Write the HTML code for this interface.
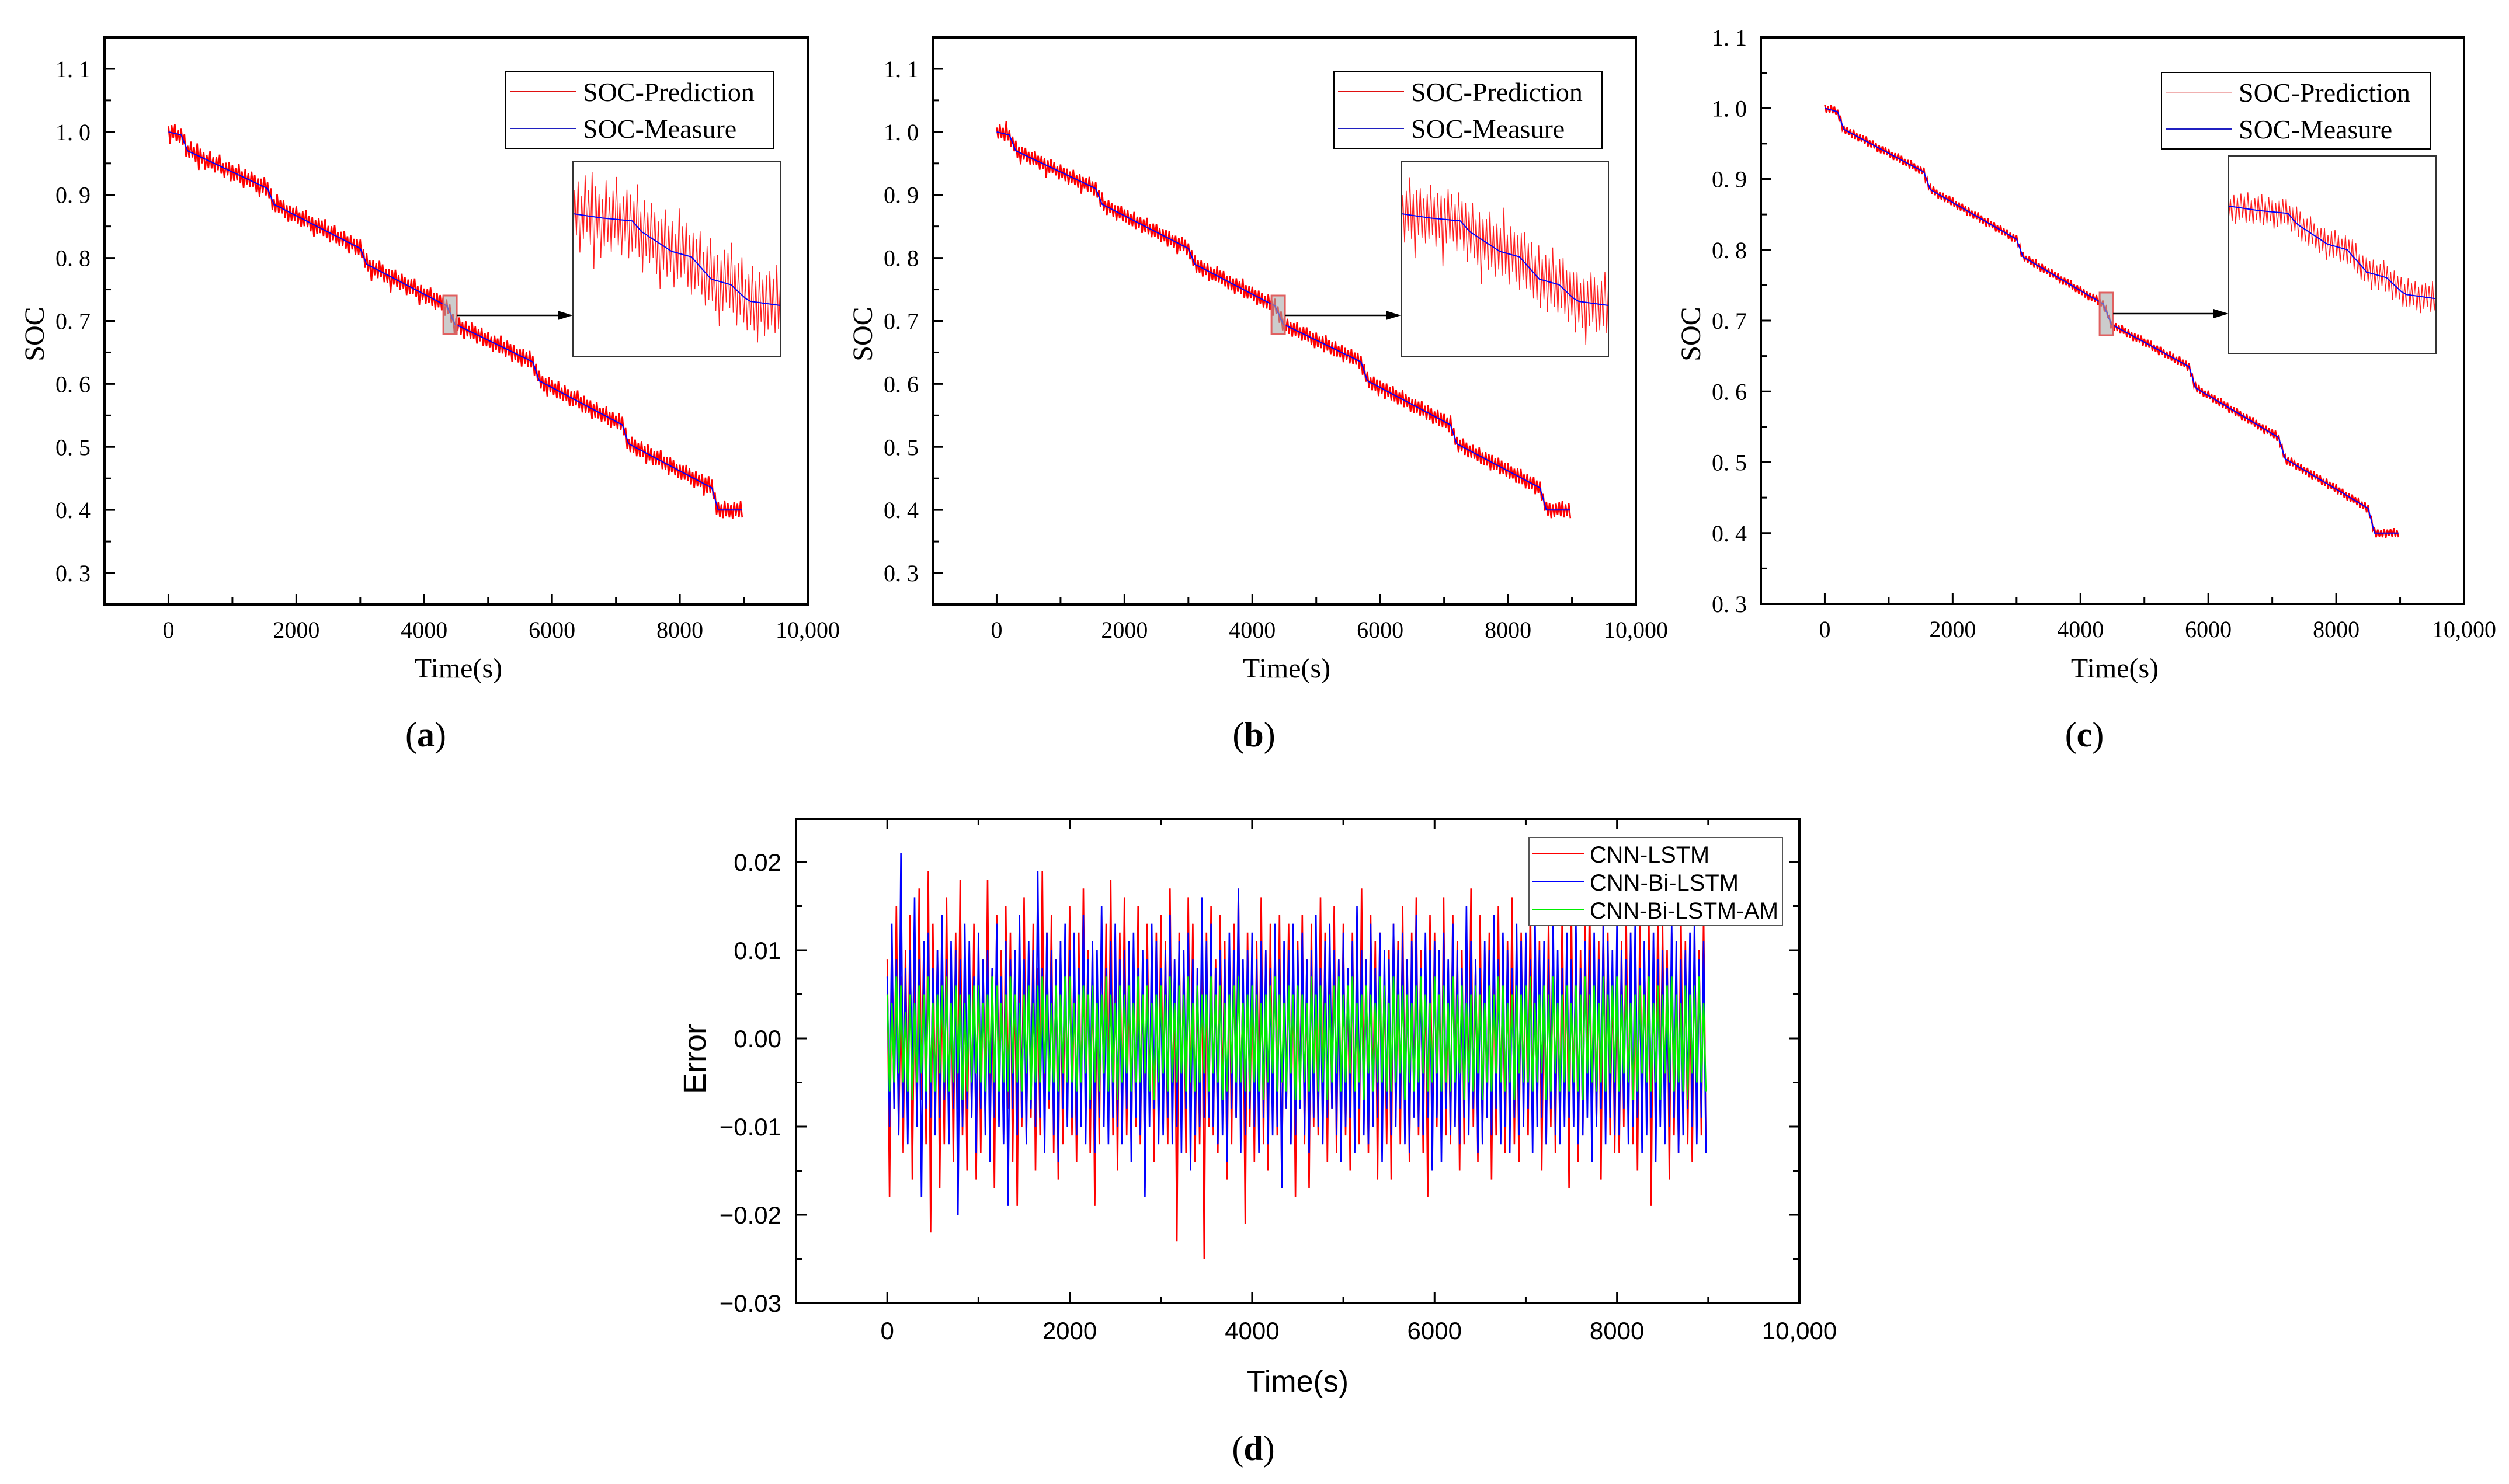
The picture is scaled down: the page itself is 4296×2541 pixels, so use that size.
<!DOCTYPE html>
<html>
<head>
<meta charset="utf-8">
<style>
html,body{margin:0;padding:0;background:#fff;}
svg{display:block;}
</style>
</head>
<body>
<svg id="fig" width="4296" height="2541" viewBox="0 0 4296 2541" xmlns="http://www.w3.org/2000/svg">
<rect x="0" y="0" width="4296" height="2541" fill="#fff"/>
</svg>
<script>
// ---- data ----
const TIME_STEP = 25;            // seconds between error samples
const ERR_UNIT = 0.001;
const redErr = [
9,-18,12,-8,15,-11,7,-13,10,-9,14,-16,8,-10,17,-7,11,-12,19,-22,
13,-9,10,-17,8,-12,16,-10,9,-14,12,-8,18,-11,7,-15,10,-9,13,-16,
11,-13,9,-10,18,-12,8,-17,14,-9,10,-11,15,-8,12,-14,9,-19,11,-10,
16,-12,10,-9,13,-15,8,-11,19,-10,12,-8,14,-13,9,-16,11,-12,10,-9,
15,-11,8,-14,12,-10,17,-9,10,-13,11,-19,9,-12,14,-8,13,-10,18,-11,
10,-15,12,-9,16,-11,8,-13,11,-10,15,-12,9,-17,13,-8,10,-14,12,-11,
14,-9,11,-12,17,-10,9,-23,12,-11,10,-13,16,-9,13,-14,8,-12,11,-25,
12,-10,15,-11,9,-13,14,-8,11,-16,10,-12,13,-9,17,-11,8,-21,12,-10,
9,-14,11,-10,16,-12,10,-15,13,-9,12,-11,14,-17,10,-8,13,-12,9,-18,
11,-8,14,-12,9,-17,13,-10,8,-11,16,-9,12,-14,10,-8,15,-13,9,-11,
13,-11,8,-15,12,-9,10,-12,17,-10,9,-13,14,-8,11,-16,12,-10,8,-12,
10,-16,13,-9,11,-12,15,-10,9,-14,12,-8,16,-11,10,-13,9,-18,14,-9,
12,-10,9,-13,16,-11,8,-12,14,-9,11,-15,10,-12,13,-8,17,-10,9,-14,
14,-12,10,-9,12,-16,9,-11,15,-10,8,-13,11,-9,16,-12,10,-14,12,-8,
9,-11,16,-10,13,-9,11,-15,8,-12,14,-10,12,-13,9,-11,15,-9,10,-17,
15,-9,12,-14,10,-11,13,-8,17,-12,9,-10,11,-16,14,-9,12,-11,8,-13,
10,-13,11,-10,15,-9,12,-12,9,-15,13,-10,10,-8,14,-19,11,-12,16,-9,
13,-9,10,-16,12,-11,9,-13,15,-10,11,-12,8,-14,13,-9,10,-11,14,-12];
const blueErr = [
7,-10,13,-8,9,-11,21,-9,8,-12,10,-7,16,-10,9,-18,11,-8,12,-9,
8,-11,10,-9,14,-7,9,-12,11,-8,10,-20,9,-10,13,-8,11,-9,7,-13,
12,-8,9,-11,10,-14,8,-9,13,-10,7,-12,11,-19,9,-8,10,-11,14,-9,
9,-12,11,-8,10,-10,19,-9,8,-13,12,-7,10,-11,9,-14,11,-8,13,-10,
10,-9,12,-11,8,-10,14,-12,9,-8,11,-13,10,-9,15,-10,8,-12,11,-9,
13,-10,9,-12,10,-8,11,-14,12,-9,8,-11,10,-18,9,-10,13,-8,11,-12,
8,-11,10,-9,14,-12,9,-10,11,-13,10,-8,12,-15,9,-11,8,-10,16,-9,
11,-9,13,-10,8,-12,10,-11,9,-14,12,-8,10,-9,17,-13,9,-11,10,-8,
12,-10,9,-13,11,-9,10,-12,8,-11,13,-10,9,-17,11,-8,10,-12,13,-11,
10,-8,12,-11,9,-13,10,-9,14,-10,8,-12,11,-9,13,-8,10,-11,9,-14,
12,-10,8,-9,11,-13,15,-8,10,-11,9,-12,13,-10,8,-9,12,-14,10,-8,
9,-11,13,-10,10,-8,12,-12,9,-13,11,-9,14,-10,8,-11,12,-9,10,-15,
11,-9,10,-14,12,-8,9,-11,13,-10,10,-12,8,-9,15,-11,11,-8,9,-13,
8,-12,11,-9,10,-11,14,-8,9,-12,12,-10,10,-13,8,-9,13,-11,11,-10,
12,-8,9,-13,15,-10,10,-9,11,-12,9,-8,14,-11,10,-12,8,-10,12,-9,
9,-10,13,-12,8,-11,11,-9,10,-14,12,-10,9,-8,13,-12,11,-9,10,-11,
13,-11,10,-8,9,-12,12,-10,14,-9,8,-13,11,-11,10,-9,12,-14,9,-10,
10,-12,8,-10,13,-9,11,-13,9,-11,10,-8,12,-10,14,-12,9,-9,11,-13];
const greenErr = [
5,-6,4,-5,7,-4,6,-5,3,-6,5,-7,4,-5,6,-4,5,-6,7,-5,
4,-6,5,-4,6,-5,7,-6,4,-5,6,-4,5,-7,4,-6,5,-5,6,-4,
6,-5,4,-6,5,-4,7,-5,6,-6,4,-5,5,-6,7,-4,5,-5,4,-6,
5,-4,6,-7,4,-5,6,-5,7,-4,5,-6,4,-5,6,-6,5,-4,7,-5,
7,-5,4,-6,5,-5,6,-4,5,-7,6,-5,4,-6,5,-4,7,-6,5,-5,
4,-7,6,-5,5,-4,6,-6,4,-5,7,-5,5,-4,6,-6,4,-7,5,-5,
6,-4,5,-6,7,-5,4,-5,6,-4,5,-6,7,-5,4,-6,6,-5,5,-4,
5,-6,7,-4,5,-5,6,-7,4,-6,5,-4,6,-5,7,-5,4,-6,5,-6,
6,-5,5,-6,4,-7,5,-5,6,-4,7,-6,5,-5,4,-6,6,-4,5,-7,
6,-7,5,-5,4,-6,7,-4,5,-6,6,-5,4,-7,5,-5,6,-4,7,-6,
5,-5,6,-4,7,-6,4,-5,5,-7,6,-4,5,-6,4,-5,7,-5,6,-6,
4,-6,7,-5,5,-4,6,-7,5,-5,4,-6,6,-5,7,-4,5,-6,4,-5,
7,-4,5,-6,6,-5,4,-6,7,-5,5,-4,6,-7,4,-5,5,-6,6,-4,
5,-7,4,-5,6,-6,5,-4,7,-5,6,-6,4,-5,5,-7,6,-4,5,-5,
6,-5,7,-6,4,-5,5,-4,6,-7,5,-6,7,-4,4,-6,5,-5,6,-6,
4,-5,6,-6,5,-7,7,-4,5,-5,6,-6,4,-5,7,-6,5,-4,6,-5,
7,-6,5,-4,6,-5,4,-7,5,-6,6,-4,5,-5,7,-6,4,-5,6,-7,
5,-4,6,-5,7,-6,5,-5,4,-6,6,-7,5,-4,6,-5,7,-5,4,-6];
const measT = [0,200,300,1550,1650,3000,3100,4330,4360,4370,4400,4420,4440,4460,4475,4480,5700,5800,7100,7200,8500,8600,8975];
const measV = [1.0,0.995,0.97,0.91,0.885,0.815,0.79,0.725,0.724,0.72,0.713,0.711,0.703,0.701,0.696,0.695,0.635,0.605,0.535,0.505,0.435,0.40,0.40];
const socXTicks = [0,2000,4000,6000,8000,10000];
const socXTickLabels = ['0','2000','4000','6000','8000','10,000'];
const socYTicks = [0.3,0.4,0.5,0.6,0.7,0.8,0.9,1.0,1.1];
const errYTicks = [-0.03,-0.02,-0.01,0.0,0.01,0.02];
const errYTickLabels = ['\u22120.03','\u22120.02','\u22120.01','0.00','0.01','0.02'];
const seriesNames = ['CNN-LSTM','CNN-Bi-LSTM','CNN-Bi-LSTM-AM'];
const seriesColors = ['#ff0000','#0000ff','#00ee00'];
const INSET_T0 = 4300, INSET_T1 = 4510;

// ---- helpers ----
const NS='http://www.w3.org/2000/svg';
const svg=document.getElementById('fig');
function el(tag, attrs, parent){
  const e=document.createElementNS(NS,tag);
  for(const k in attrs) e.setAttribute(k,attrs[k]);
  (parent||svg).appendChild(e);
  return e;
}
function interp(t){
  if(t<=measT[0]) return measV[0];
  for(let i=1;i<measT.length;i++){
    if(t<=measT[i]){const f=(t-measT[i-1])/(measT[i]-measT[i-1]);return measV[i-1]+f*(measV[i]-measV[i-1]);}
  }
  return measV[measV.length-1];
}
const SERIF='"Liberation Serif", "Noto Serif CJK SC", serif';
const SANS='"Liberation Sans", Arial, sans-serif';

// ---- SOC panels ----
const panels=[
 {id:'a',L:179,R:1383,T:64,B:1035,ymin:0.25,ymax:1.15,err:redErr,legX:866,legY:123,legW:459,legH:131,
  ins:{x:981,y:276,w:355,h:335,vmin:0.675,vmax:0.7455},rectY0:506,rectY1:572,arrowY:540,legPredColor:'#e01010',labelX:729},
 {id:'b',L:1597,R:2801,T:64,B:1035,ymin:0.25,ymax:1.15,err:blueErr,legX:2284,legY:123,legW:459,legH:131,
  ins:{x:2399,y:276,w:355,h:335,vmin:0.675,vmax:0.7455},rectY0:506,rectY1:572,arrowY:540,legPredColor:'#e01010',labelX:2147},
 {id:'c',L:3015,R:4219,T:64,B:1034,ymin:0.3,ymax:1.1,err:greenErr,legX:3701,legY:124,legW:461,legH:131,
  ins:{x:3816,y:267,w:355,h:338,vmin:0.674,vmax:0.7445},rectY0:501,rectY1:574,arrowY:537,legPredColor:'#f0b0b0',labelX:3569}
];
panels.forEach(p=>{
  const g=el('g',{});
  
  
  const xs=t=>p.L+(t+1000)/11000*(p.R-p.L);
  const ys=v=>p.B-(v-p.ymin)/(p.ymax-p.ymin)*(p.B-p.T);
  for(let t=0;t<=9000;t+=1000){
    const tk=el('line',{x1:xs(t),x2:xs(t),y1:p.B,y2:p.B-(t%2000===0?18:12),stroke:'#000','stroke-width':3},g);
    
    
  }
  socXTicks.forEach((t,i)=>{
    const tx=el('text',{x:xs(t),y:p.B+57,'text-anchor':'middle','font-family':SERIF,'font-size':40},g);
    tx.textContent=socXTickLabels[i];
    
    
  });
  socYTicks.forEach(v=>{
    const tk=el('line',{x1:p.L,x2:p.L+18,y1:ys(v),y2:ys(v),stroke:'#000','stroke-width':3},g);
    
    
    const tx=el('text',{x:p.L-24,y:ys(v)+14,'text-anchor':'end','font-family':SERIF,'font-size':40},g);
    tx.textContent=v.toFixed(1).replace('.','. ');
    
    
    if(v<1.1){
      const mt=el('line',{x1:p.L,x2:p.L+11,y1:ys(v+0.05),y2:ys(v+0.05),stroke:'#000','stroke-width':3},g);
      
      
    }
  });
  let pred='';
  p.err.forEach((e,i)=>{const t=i*TIME_STEP;pred+=xs(t).toFixed(1)+','+ys(interp(t)+e*ERR_UNIT).toFixed(1)+' ';});
  const pl=el('polyline',{points:pred,fill:'none',stroke:'#ff0000','stroke-width':2.6},g);
  
  
  let meas='';
  measT.forEach((t,i)=>{meas+=xs(t).toFixed(1)+','+ys(measV[i]).toFixed(1)+' ';});
  const ml=el('polyline',{points:meas,fill:'none',stroke:'#0000ff','stroke-width':2},g);
  
  
  const zr=el('rect',{x:xs(INSET_T0),y:p.rectY0,width:xs(INSET_T1)-xs(INSET_T0),height:p.rectY1-p.rectY0,fill:'rgba(170,170,170,0.6)',stroke:'#e06060','stroke-width':3},g);
  
  
  const ar=el('line',{x1:xs(INSET_T1),x2:p.ins.x-22,y1:p.arrowY,y2:p.arrowY,stroke:'#000','stroke-width':2.5},g);
  
  
  const ah=el('polygon',{points:(p.ins.x)+','+p.arrowY+' '+(p.ins.x-26)+','+(p.arrowY-8)+' '+(p.ins.x-26)+','+(p.arrowY+8),fill:'#000'},g);
  
  
  const I=p.ins;
  const cid='clip'+p.id;
  const cp=el('clipPath',{id:cid},g);
  el('rect',{x:I.x,y:I.y,width:I.w,height:I.h},cp);
  const ix=t=>I.x+(t-INSET_T0)/(INSET_T1-INSET_T0)*I.w;
  const iy=v=>I.y+I.h-(v-I.vmin)/(I.vmax-I.vmin)*I.h;
  const ig=el('g',{'clip-path':'url(#'+cid+')'},g);
  
  
  const N=120;
  let ip='';
  for(let i=0;i<N;i++){const t=INSET_T0+i*(INSET_T1-INSET_T0)/(N-1);ip+=ix(t).toFixed(1)+','+iy(interp(t)+p.err[i+7]*ERR_UNIT*0.85).toFixed(1)+' ';}
  const ipl=el('polyline',{points:ip,fill:'none',stroke:'#ff2020','stroke-width':1.4},ig);
  
  
  let im=ix(INSET_T0)+','+iy(interp(INSET_T0))+' ';
  measT.forEach((t,i)=>{if(t>INSET_T0&&t<INSET_T1) im+=ix(t).toFixed(1)+','+iy(measV[i]).toFixed(1)+' ';});
  im+=ix(INSET_T1)+','+iy(interp(INSET_T1));
  const iml=el('polyline',{points:im,fill:'none',stroke:'#0000ff','stroke-width':2},ig);
  
  
  const ib=el('rect',{x:I.x,y:I.y,width:I.w,height:I.h,fill:'none',stroke:'#333','stroke-width':2},g);
  
  
  const fr=el('path',{d:'M'+p.L+' '+p.T+' H'+p.R+' V'+p.B+' H'+p.L+' Z',fill:'none',stroke:'#000','stroke-width':4},g);
  
  
  const lg=el('g',{},g);
  
  
  el('rect',{x:p.legX,y:p.legY,width:p.legW,height:p.legH,fill:'#fff',stroke:'#000','stroke-width':2},lg);
  const l1=el('line',{x1:p.legX+7,x2:p.legX+120,y1:p.legY+34,y2:p.legY+34,stroke:p.legPredColor,'stroke-width':2},lg);
  
  
  const t1=el('text',{x:p.legX+132,y:p.legY+50,'font-family':SERIF,'font-size':46},lg);
  t1.textContent='SOC-Prediction';
  
  
  const l2=el('line',{x1:p.legX+7,x2:p.legX+120,y1:p.legY+97,y2:p.legY+97,stroke:'#2020c0','stroke-width':2},lg);
  
  
  const t2=el('text',{x:p.legX+132,y:p.legY+113,'font-family':SERIF,'font-size':46},lg);
  t2.textContent='SOC-Measure';
  
  
  const xt=el('text',{x:(p.L+p.R)/2+4,y:1160,'text-anchor':'middle','font-family':SERIF,'font-size':48},g);
  xt.textContent='Time(s)';
  
  
  const yt=el('text',{x:0,y:0,'text-anchor':'middle','font-family':SERIF,'font-size':48,transform:'translate('+(p.L-104)+',572) rotate(-90)'},g);
  yt.textContent='SOC';
  
  
  const pl2=el('text',{x:p.labelX,y:1278,'text-anchor':'middle','font-family':SERIF,'font-size':60},g);
  pl2.innerHTML='(<tspan font-weight="bold">'+p.id+'</tspan>)';
  
  
});

// ---- error panel (d) ----
(function(){
  const L=1363,R=3081,T=1402,B=2231,ymin=-0.03,ymax=0.0249,xmin=-1000,xmax=10000;
  const g=el('g',{});
  
  
  const xs=t=>L+(t-xmin)/(xmax-xmin)*(R-L);
  const ys=v=>B-(v-ymin)/(ymax-ymin)*(B-T);
  [redErr,blueErr,greenErr].forEach((arr,k)=>{
    let pts='';
    arr.forEach((e,i)=>{pts+=xs(i*TIME_STEP).toFixed(1)+','+ys(e*ERR_UNIT).toFixed(1)+' ';});
    const pl=el('polyline',{points:pts,fill:'none',stroke:seriesColors[k],'stroke-width':2.6},g);
    
    
  });
  for(let t=0;t<=9000;t+=1000){
    const len=t%2000===0?18:11;
    const a=el('line',{x1:xs(t),x2:xs(t),y1:B,y2:B-len,stroke:'#000','stroke-width':3},g);
    
    
    const b=el('line',{x1:xs(t),x2:xs(t),y1:T,y2:T+len,stroke:'#000','stroke-width':3},g);
    
    
  }
  socXTicks.forEach((t,i)=>{
    const tx=el('text',{x:xs(t),y:B+62,'text-anchor':'middle','font-family':SANS,'font-size':42},g);
    tx.textContent=socXTickLabels[i];
    
    
  });
  errYTicks.forEach((v,i)=>{
    const a=el('line',{x1:L,x2:L+18,y1:ys(v),y2:ys(v),stroke:'#000','stroke-width':3},g);
    
    
    const b=el('line',{x1:R,x2:R-18,y1:ys(v),y2:ys(v),stroke:'#000','stroke-width':3},g);
    
    
    if(v<0.02){
      const m=el('line',{x1:L,x2:L+11,y1:ys(v+0.005),y2:ys(v+0.005),stroke:'#000','stroke-width':3},g);
      
      
      const m2=el('line',{x1:R,x2:R-11,y1:ys(v+0.005),y2:ys(v+0.005),stroke:'#000','stroke-width':3},g);
      
      
    }
    const tx=el('text',{x:L-25,y:ys(v)+15,'text-anchor':'end','font-family':SANS,'font-size':42},g);
    tx.textContent=errYTickLabels[i];
    
    
  });
  const fr=el('rect',{x:L,y:T,width:R-L,height:B-T,fill:'none',stroke:'#000','stroke-width':4},g);
  
  
  const lg=el('g',{},g);
  
  
  el('rect',{x:2618,y:1434,width:434,height:151,fill:'#fff',stroke:'#555','stroke-width':2},lg);
  const legW=[205,255,323];
  seriesNames.forEach((n,k)=>{
    const y=1462+k*48;
    const ln=el('line',{x1:2624,x2:2713,y1:y,y2:y,stroke:seriesColors[k],'stroke-width':2},lg);
    
    
    const tx=el('text',{x:2722,y:y+15,'font-family':SANS,'font-size':40,textLength:legW[k],lengthAdjust:'spacingAndGlyphs'},lg);
    tx.textContent=n;
    
    
  });
  const xt=el('text',{x:2222,y:2383,'text-anchor':'middle','font-family':SANS,'font-size':52},g);
  xt.textContent='Time(s)';
  
  
  const yt=el('text',{x:0,y:0,'text-anchor':'middle','font-family':SANS,'font-size':54,transform:'translate(1208,1813) rotate(-90)'},g);
  yt.textContent='Error';
  
  
  const pl=el('text',{x:2146,y:2500,'text-anchor':'middle','font-family':SERIF,'font-size':60},g);
  pl.innerHTML='(<tspan font-weight="bold">d</tspan>)';
  
  
})();
</script>
</body>
</html>
